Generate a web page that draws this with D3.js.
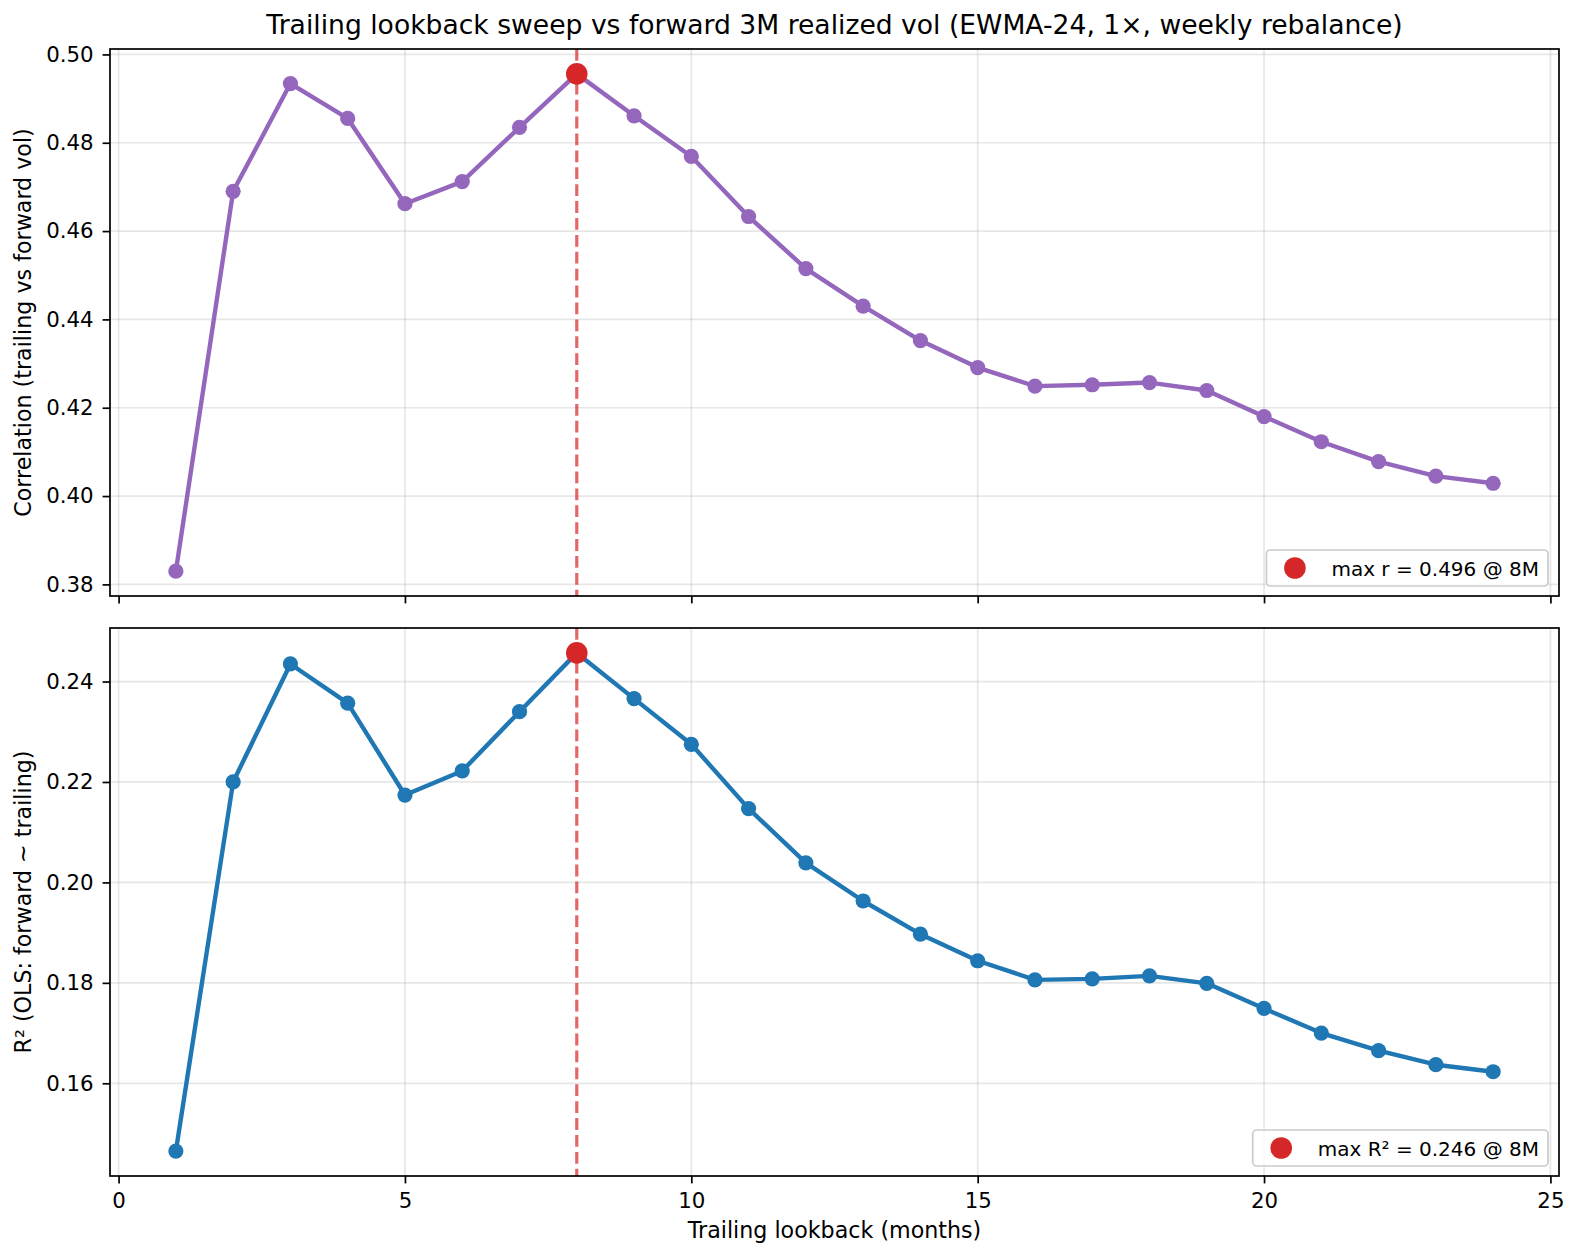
<!DOCTYPE html>
<html>
<head>
<meta charset="utf-8">
<script src="https://cdn.jsdelivr.net/npm/d3@7"></script>
<style>
  html, body { margin: 0; padding: 0; background: #fff; }
  svg { display: block; }
  text { font-family: "DejaVu Sans", sans-serif; }
</style>
</head>
<body>
<svg id="chart" width="1580" height="1256"></svg>
<script>
// ---- data ----
const lookbackMonths = [1,2,3,4,5,6,7,8,9,10,11,12,13,14,15,16,17,18,19,20,21,22,23,24];
const correlation = [0.3830,0.4690,0.4934,0.4855,0.4662,0.4712,0.4835,0.4956,0.4861,0.4769,0.4633,0.4515,0.4430,0.4352,0.4291,0.4249,0.4252,0.4257,0.4239,0.4180,0.4123,0.4078,0.4045,0.4029];
const rSquared = [0.1465,0.2200,0.2435,0.2357,0.2174,0.2222,0.2340,0.2457,0.2366,0.2275,0.2147,0.2039,0.1963,0.1897,0.1844,0.1806,0.1808,0.1814,0.1799,0.1749,0.1700,0.1665,0.1637,0.1623];
const xTicks = [0,5,10,15,20,25];
const corrTicks = [0.38,0.40,0.42,0.44,0.46,0.48,0.50];
const r2Ticks = [0.16,0.18,0.20,0.22,0.24];
const titleText = "Trailing lookback sweep vs forward 3M realized vol (EWMA-24, 1\u00d7, weekly rebalance)";
const xLabel = "Trailing lookback (months)";
const corrLabel = "Correlation (trailing vs forward vol)";
const r2Label = "R\u00b2 (OLS: forward ~ trailing)";

// ---- layout ----
const svg = d3.select("#chart");
const L = 110, R = 1559;
const panels = [
  { top: 49, bottom: 596, values: correlation, ticks: corrTicks, color: "#9467bd", ylabel: corrLabel, legendName: "max r", showX: false },
  { top: 628, bottom: 1176, values: rSquared, ticks: r2Ticks, color: "#1f77b4", ylabel: r2Label, legendName: "max R\u00b2", showX: true }
];

function padDomain(arr) {
  const lo = d3.min(arr), hi = d3.max(arr), m = (hi - lo) * 0.05;
  return [lo - m, hi + m];
}

const x = d3.scaleLinear().domain(padDomain(lookbackMonths)).range([L, R]);
const fontTick = 21.3;
const fontLabel = 22.2;

svg.append("text")
  .attr("x", (L + R) / 2).attr("y", 34)
  .attr("text-anchor", "middle")
  .attr("font-size", 26.6)
  .attr("fill", "#000")
  .text(titleText);

panels.forEach(p => {
  const y = d3.scaleLinear().domain(padDomain(p.values)).range([p.bottom, p.top]);
  const g = svg.append("g");

  const clipId = "clip" + p.top;
  svg.append("clipPath").attr("id", clipId)
    .append("rect").attr("x", L).attr("y", p.top).attr("width", R - L).attr("height", p.bottom - p.top);

  // grid
  const grid = g.append("g").attr("clip-path", `url(#${clipId})`);
  grid.selectAll("line.gx").data(xTicks).enter().append("line")
    .attr("x1", d => x(d)).attr("x2", d => x(d))
    .attr("y1", p.top).attr("y2", p.bottom)
    .attr("stroke", "#b0b0b0").attr("stroke-opacity", 0.3).attr("stroke-width", 1.7);
  grid.selectAll("line.gy").data(p.ticks).enter().append("line")
    .attr("x1", L).attr("x2", R)
    .attr("y1", d => y(d)).attr("y2", d => y(d))
    .attr("stroke", "#b0b0b0").attr("stroke-opacity", 0.3).attr("stroke-width", 1.7);

  const plot = g.append("g").attr("clip-path", `url(#${clipId})`);
  const pts = lookbackMonths.map((m, i) => [m, p.values[i]]);

  plot.append("path")
    .datum(pts)
    .attr("d", d3.line().x(d => x(d[0])).y(d => y(d[1])))
    .attr("fill", "none")
    .attr("stroke", p.color)
    .attr("stroke-width", 4.4)
    .attr("stroke-linejoin", "round");

  plot.selectAll("circle.pt").data(pts).enter().append("circle")
    .attr("cx", d => x(d[0])).attr("cy", d => y(d[1]))
    .attr("r", 7.6).attr("fill", p.color);

  const mi = d3.maxIndex(p.values);
  const mx = lookbackMonths[mi], my = p.values[mi];

  plot.append("line")
    .attr("x1", x(mx)).attr("x2", x(mx))
    .attr("y1", p.top).attr("y2", p.bottom)
    .attr("stroke", "#d62728").attr("stroke-opacity", 0.7)
    .attr("stroke-width", 3.2)
    .attr("stroke-dasharray", "11.8,5.1");

  plot.append("circle")
    .attr("cx", x(mx)).attr("cy", y(my))
    .attr("r", 10.8).attr("fill", "#d62728");

  // axes
  const yAxis = d3.axisLeft(y).tickValues(p.ticks).tickFormat(d3.format(".2f")).tickSize(7.4).tickPadding(9);
  const ya = g.append("g").attr("transform", `translate(${L},0)`).call(yAxis);
  ya.select(".domain").remove();
  ya.selectAll("line").attr("stroke", "#000").attr("stroke-width", 1.7);
  ya.selectAll("text").attr("font-size", fontTick).attr("fill", "#000").attr("font-family", "DejaVu Sans");

  const xAxis = d3.axisBottom(x).tickValues(xTicks).tickFormat(d3.format("d")).tickSize(7.4).tickPadding(9);
  const xa = g.append("g").attr("transform", `translate(0,${p.bottom})`).call(xAxis);
  xa.select(".domain").remove();
  xa.selectAll("line").attr("stroke", "#000").attr("stroke-width", 1.7);
  xa.selectAll("text").attr("font-size", fontTick).attr("fill", "#000").attr("font-family", "DejaVu Sans");
  if (!p.showX) xa.selectAll("text").remove();

  g.append("rect")
    .attr("x", L).attr("y", p.top).attr("width", R - L).attr("height", p.bottom - p.top)
    .attr("fill", "none").attr("stroke", "#000").attr("stroke-width", 1.7);

  g.append("text")
    .attr("transform", `translate(31,${(p.top + p.bottom) / 2}) rotate(-90)`)
    .attr("text-anchor", "middle")
    .attr("font-size", fontLabel)
    .attr("fill", "#000")
    .text(p.ylabel);

  // legend
  const lg = g.append("g");
  const box = lg.append("rect");
  const legText = lg.append("text")
    .attr("font-size", 20)
    .attr("fill", "#000")
    .attr("dominant-baseline", "central")
    .text(`${p.legendName} = ${d3.format(".3f")(my)} @ ${mx}M`);
  const tw = legText.node().getComputedTextLength();
  const bw = 65 + tw + 9, bh = 36;
  const bx = R - 11 - bw, by = p.bottom - 10 - bh;
  box.attr("x", bx).attr("y", by).attr("width", bw).attr("height", bh)
    .attr("rx", 4).attr("fill", "#fff").attr("fill-opacity", 0.8)
    .attr("stroke", "#cccccc").attr("stroke-width", 1.7);
  lg.append("circle").attr("cx", bx + 28.5).attr("cy", by + bh / 2).attr("r", 10.8).attr("fill", "#d62728");
  legText.attr("x", bx + 65).attr("y", by + bh / 2 + 1);
});

svg.append("text")
  .attr("x", (L + R) / 2).attr("y", 1238)
  .attr("text-anchor", "middle")
  .attr("font-size", fontLabel)
  .attr("fill", "#000")
  .text(xLabel);
</script>
</body>
</html>
